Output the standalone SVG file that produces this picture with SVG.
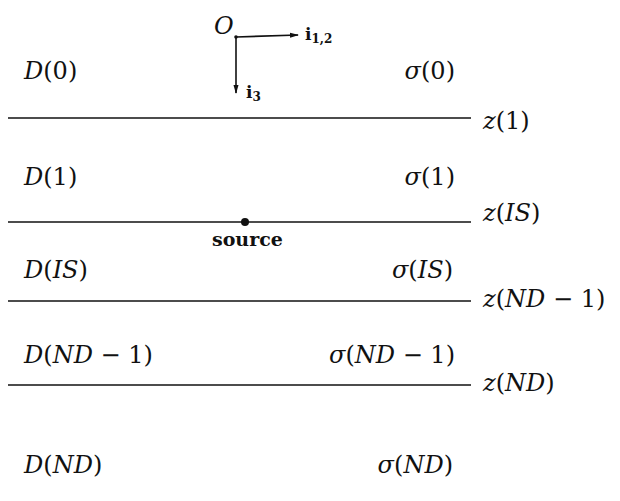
<svg xmlns="http://www.w3.org/2000/svg" width="620" height="501" viewBox="0 0 620 501">
<defs>
<style>
.t{font-family:"DejaVu Serif",serif;font-size:24px;font-style:italic;fill:#111}
.n{font-style:normal}
.ln{stroke:#111;stroke-width:1.6;fill:none}
.b{font-family:"DejaVu Serif",serif;font-weight:bold;fill:#111}
</style>
<marker id="ah" markerWidth="9" markerHeight="6" refX="8" refY="3" orient="auto" markerUnits="userSpaceOnUse">
<path d="M0,0.5 L9,3 L0,5.5 Z" fill="#111"/>
</marker>
</defs>
<rect width="620" height="501" fill="#fff"/>
<g id="origin">
<text x="214" y="34" class="t" font-size="25">O</text>
<path class="ln" d="M236,37 L298,35" marker-end="url(#ah)"/>
<path class="ln" d="M236,37 L236,93" marker-end="url(#ah)"/>
<circle cx="236" cy="37" r="1.8" fill="#111"/>
<text x="305" y="40" class="b" font-size="17">i<tspan font-size="12" dy="3">1,2</tspan></text>
<text x="246" y="98" class="b" font-size="17">i<tspan font-size="12" dy="3">3</tspan></text>
</g>
<g id="interfaces">
<line class="ln" x1="8" y1="118" x2="471" y2="118"/>
<line class="ln" x1="8" y1="222" x2="471" y2="222"/>
<line class="ln" x1="8" y1="301" x2="471" y2="301"/>
<line class="ln" x1="8" y1="385" x2="471" y2="385"/>
<text x="483" y="129" class="t">z<tspan class="n">(1)</tspan></text>
<text x="483" y="221" class="t">z<tspan class="n">(</tspan>IS<tspan class="n">)</tspan></text>
<text x="483" y="307" class="t">z<tspan class="n">(</tspan>ND<tspan class="n"> − 1)</tspan></text>
<text x="483" y="391" class="t">z<tspan class="n">(</tspan>ND<tspan class="n">)</tspan></text>
</g>
<g id="source">
<circle cx="245" cy="222" r="4" fill="#111"/>
<text x="212" y="246" class="b" font-size="19">source</text>
</g>
<g id="layers">
<text x="24" y="79" class="t">D<tspan class="n">(0)</tspan></text>
<text x="455" y="79" class="t" text-anchor="end">σ<tspan class="n">(0)</tspan></text>
<text x="24" y="185" class="t">D<tspan class="n">(1)</tspan></text>
<text x="455" y="185" class="t" text-anchor="end">σ<tspan class="n">(1)</tspan></text>
<text x="24" y="278" class="t">D<tspan class="n">(</tspan>IS<tspan class="n">)</tspan></text>
<text x="453" y="278" class="t" text-anchor="end">σ<tspan class="n">(</tspan>IS<tspan class="n">)</tspan></text>
<text x="24" y="363" class="t">D<tspan class="n">(</tspan>ND<tspan class="n"> − 1)</tspan></text>
<text x="455" y="363" class="t" text-anchor="end">σ<tspan class="n">(</tspan>ND<tspan class="n"> − 1)</tspan></text>
<text x="24" y="473" class="t">D<tspan class="n">(</tspan>ND<tspan class="n">)</tspan></text>
<text x="453" y="473" class="t" text-anchor="end">σ<tspan class="n">(</tspan>ND<tspan class="n">)</tspan></text>
</g>
</svg>
